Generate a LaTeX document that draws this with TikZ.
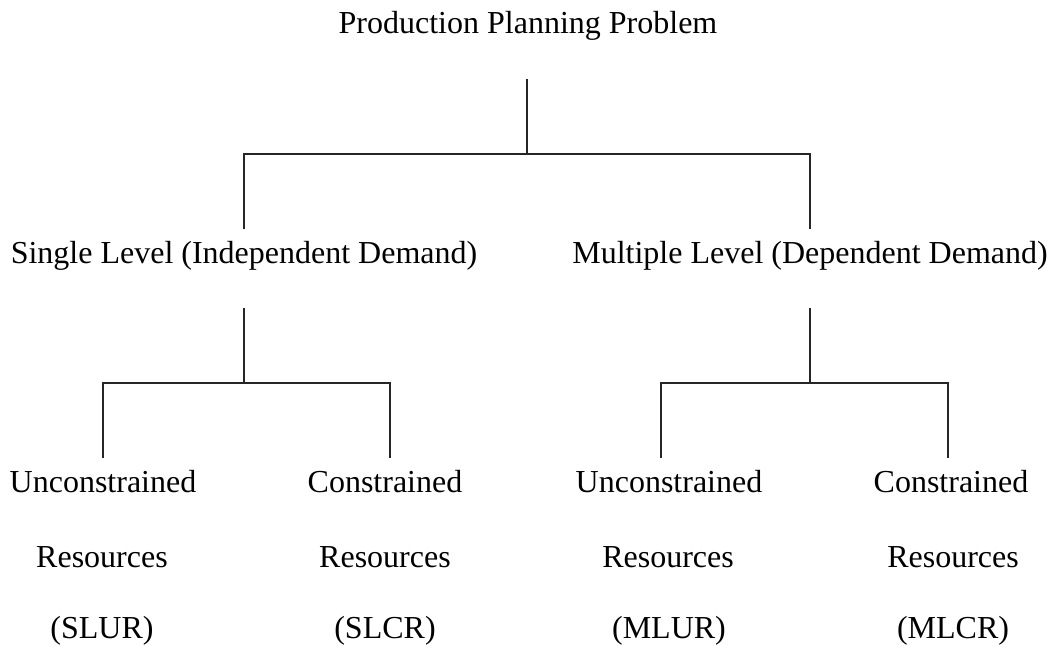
\documentclass[tikz,border=0pt]{standalone}
\usepackage{fontspec}
\setmainfont{Liberation Serif}
\begin{document}
\begin{tikzpicture}[x=1pt,y=-1pt,
  lbl/.style={anchor=base,inner sep=0pt,font=\fontsize{32}{38}\selectfont},
  conn/.style={line width=1.4pt,black!85}]
\useasboundingbox[fill=white] (0,0) rectangle (1054,651);
% texts
\node[lbl] (title) at (528,33) {Production Planning Problem};
\node[lbl] (sl) at (244,263) {Single Level (Independent Demand)};
\node[lbl] (ml) at (810,263) {Multiple Level (Dependent Demand)};
\node[lbl] (u1) at (103,492) {Unconstrained};
\node[lbl] (r1) at (102,567) {Resources};
\node[lbl] (a1) at (102,638) {(SLUR)};
\node[lbl] (u2) at (385,492) {Constrained};
\node[lbl] (r2) at (385,567) {Resources};
\node[lbl] (a2) at (385,638) {(SLCR)};
\node[lbl] (u3) at (669,492) {Unconstrained};
\node[lbl] (r3) at (668,567) {Resources};
\node[lbl] (a3) at (669,638) {(MLUR)};
\node[lbl] (u4) at (951,492) {Constrained};
\node[lbl] (r4) at (953,567) {Resources};
\node[lbl] (a4) at (953,638) {(MLCR)};
% junction coordinates
\coordinate (t0) at (527,79);
\coordinate (t1) at (527,154);
\coordinate (sl0) at (244,229);
\coordinate (ml0) at (810,229);
\coordinate (sl1) at (244,308);
\coordinate (sl2) at (244,383);
\coordinate (ml1) at (810,308);
\coordinate (ml2) at (810,383);
\coordinate (u1t) at (103,458);
\coordinate (u2t) at (390,458);
\coordinate (u3t) at (661,458);
\coordinate (u4t) at (948,458);
% connectors
\draw[conn] (t0) -- (t1);
\draw[conn] (sl0) |- (t1) -| (ml0);
\draw[conn] (sl1) -- (sl2);
\draw[conn] (u1t) |- (sl2) -| (u2t);
\draw[conn] (ml1) -- (ml2);
\draw[conn] (u3t) |- (ml2) -| (u4t);
\end{tikzpicture}
\end{document}
